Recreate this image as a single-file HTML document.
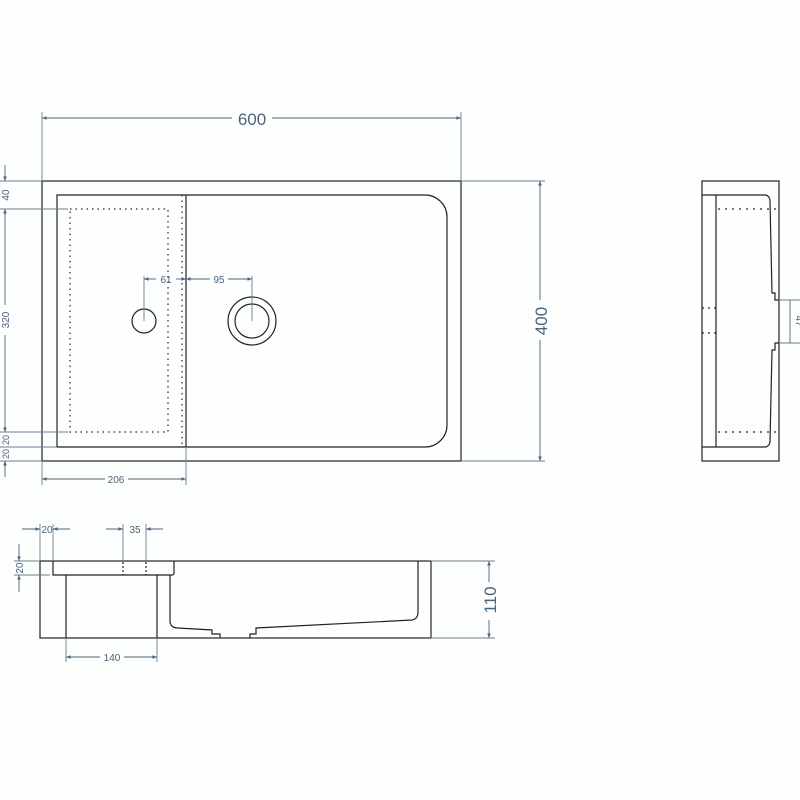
<!DOCTYPE html>
<html><head><style>body{margin:0;background:#fff}svg{display:block}</style></head><body>
<svg width="800" height="800" viewBox="0 0 800 800" xmlns="http://www.w3.org/2000/svg">
<defs>
<marker id="a" viewBox="0 0 10 10" refX="10" refY="5" markerWidth="7" markerHeight="5" orient="auto-start-reverse"><path d="M0,1 L10,5 L0,9z" fill="#4a6478"/></marker>
</defs>
<rect width="800" height="800" fill="#fdfefe"/>
<g stroke="#222" stroke-width="1.2" fill="none">
<!-- top view -->
<rect x="42" y="181" width="419" height="280"/>
<path d="M57,447 V195 H425 A22,22 0 0 1 447,217 V425 A22,22 0 0 1 425,447 Z"/>
<line x1="186" y1="195" x2="186" y2="447"/>
<line x1="182" y1="195" x2="182" y2="447" stroke-dasharray="1.5,4"/>
<rect x="70" y="209" width="98" height="223" stroke-dasharray="1.5,4"/>
<circle cx="144" cy="321" r="12"/>
<circle cx="252" cy="321" r="24"/>
<circle cx="252" cy="321" r="17"/>
<!-- side view -->
<rect x="702" y="181" width="77" height="280"/>
<path d="M702,195 H766 A6,6 0 0 1 770,201 L772,293 H775 V300 H779"/>
<path d="M702,447 H766 A6,6 0 0 0 770,441 L772,350 H775 V343 H779"/>
<line x1="716" y1="195" x2="716" y2="447"/>
<line x1="718" y1="209" x2="779" y2="209" stroke-dasharray="2,5"/>
<line x1="718" y1="432" x2="779" y2="432" stroke-dasharray="2,5"/>
<line x1="702" y1="308" x2="716" y2="308" stroke-dasharray="2,4"/>
<line x1="702" y1="333" x2="716" y2="333" stroke-dasharray="2,4"/>
<!-- front section -->
<rect x="40" y="561" width="391" height="77"/>
<path d="M53,561 V575 H172 A2,2 0 0 0 174,573 V561"/>
<line x1="66" y1="575" x2="66" y2="638"/>
<line x1="157" y1="575" x2="157" y2="638"/>
<path d="M170,575 V622 Q171,628 178,628 L212,630 V634 H220 V638"/>
<path d="M250,638 V634 H256 V628 L412,620 Q418,619 418,612 V561"/>
<line x1="123" y1="562" x2="123" y2="575" stroke-dasharray="2,2"/>
<line x1="146" y1="562" x2="146" y2="575" stroke-dasharray="2,2"/>
</g>
<g stroke="#6a7f8e" stroke-width="0.9" fill="none">
<!-- extension lines -->
<line x1="42" y1="112" x2="42" y2="181"/><line x1="461" y1="112" x2="461" y2="181"/>
<line x1="461" y1="181" x2="545" y2="181"/><line x1="461" y1="461" x2="545" y2="461"/>
<line x1="0" y1="181" x2="42" y2="181"/><line x1="0" y1="209" x2="68" y2="209"/>
<line x1="0" y1="432" x2="68" y2="432"/><line x1="0" y1="447" x2="57" y2="447"/><line x1="0" y1="461" x2="42" y2="461"/>
<line x1="42" y1="461" x2="42" y2="485"/><line x1="186" y1="447" x2="186" y2="485"/>
<line x1="144" y1="276" x2="144" y2="321"/><line x1="252" y1="276" x2="252" y2="321"/>
<line x1="779" y1="300" x2="800" y2="300"/><line x1="779" y1="343" x2="800" y2="343"/>
<line x1="40" y1="524" x2="40" y2="561"/><line x1="53" y1="524" x2="53" y2="561"/>
<line x1="123" y1="524" x2="123" y2="561"/><line x1="146" y1="524" x2="146" y2="561"/>
<line x1="14" y1="561" x2="40" y2="561"/><line x1="14" y1="575" x2="50" y2="575"/>
<line x1="431" y1="561" x2="495" y2="561"/><line x1="431" y1="638" x2="495" y2="638"/>
<line x1="66" y1="638" x2="66" y2="662"/><line x1="157" y1="638" x2="157" y2="662"/>
</g>
<g stroke="#4a6478" stroke-width="0.9" fill="none">
<line x1="42" y1="118" x2="232" y2="118" marker-start="url(#a)"/><line x1="272" y1="118" x2="461" y2="118" marker-end="url(#a)"/>
<line x1="540" y1="181" x2="540" y2="300" marker-start="url(#a)"/><line x1="540" y1="340" x2="540" y2="461" marker-end="url(#a)"/>
<line x1="5" y1="165" x2="5" y2="181" marker-end="url(#a)"/>
<line x1="5" y1="209" x2="5" y2="305" marker-start="url(#a)"/><line x1="5" y1="335" x2="5" y2="432" marker-end="url(#a)"/>
<line x1="5" y1="461" x2="5" y2="477" marker-start="url(#a)"/>
<line x1="42" y1="479" x2="105" y2="479" marker-start="url(#a)"/><line x1="128" y1="479" x2="186" y2="479" marker-end="url(#a)"/>
<line x1="144" y1="279" x2="156" y2="279" marker-start="url(#a)"/><line x1="176" y1="279" x2="186" y2="279" marker-end="url(#a)"/>
<line x1="186" y1="279" x2="210" y2="279" marker-start="url(#a)"/><line x1="228" y1="279" x2="252" y2="279" marker-end="url(#a)"/>
<line x1="790" y1="300" x2="790" y2="343"/>
<line x1="22" y1="529" x2="40" y2="529" marker-end="url(#a)"/><line x1="70" y1="529" x2="53" y2="529" marker-end="url(#a)"/>
<line x1="106" y1="529" x2="123" y2="529" marker-end="url(#a)"/><line x1="163" y1="529" x2="146" y2="529" marker-end="url(#a)"/>
<line x1="19" y1="544" x2="19" y2="561" marker-end="url(#a)"/><line x1="19" y1="592" x2="19" y2="575" marker-end="url(#a)"/>
<line x1="489" y1="561" x2="489" y2="582" marker-start="url(#a)"/><line x1="489" y1="620" x2="489" y2="638" marker-end="url(#a)"/>
<line x1="66" y1="657" x2="100" y2="657" marker-start="url(#a)"/><line x1="124" y1="657" x2="157" y2="657" marker-end="url(#a)"/>
</g>
<g fill="#4a6478" font-family="Liberation Sans, sans-serif" text-anchor="middle">
<text x="252" y="125" font-size="17">600</text>
<text transform="translate(547,321) rotate(-90)" font-size="17">400</text>
<text transform="translate(9,195) rotate(-90)" font-size="10">40</text>
<text transform="translate(9,320) rotate(-90)" font-size="10">320</text>
<text transform="translate(9,440) rotate(-90)" font-size="9">20</text>
<text transform="translate(9,454) rotate(-90)" font-size="9">20</text>
<text x="116" y="483" font-size="10">206</text>
<text x="166" y="283" font-size="10">61</text>
<text x="219" y="283" font-size="10">95</text>
<text transform="translate(796,321) rotate(90)" font-size="10">47</text>
<text x="47" y="533" font-size="10">20</text>
<text x="135" y="533" font-size="10">35</text>
<text transform="translate(23,568) rotate(-90)" font-size="10">20</text>
<text transform="translate(496,600) rotate(-90)" font-size="17">110</text>
<text x="112" y="661" font-size="10">140</text>
</g>
</svg>
</body></html>
